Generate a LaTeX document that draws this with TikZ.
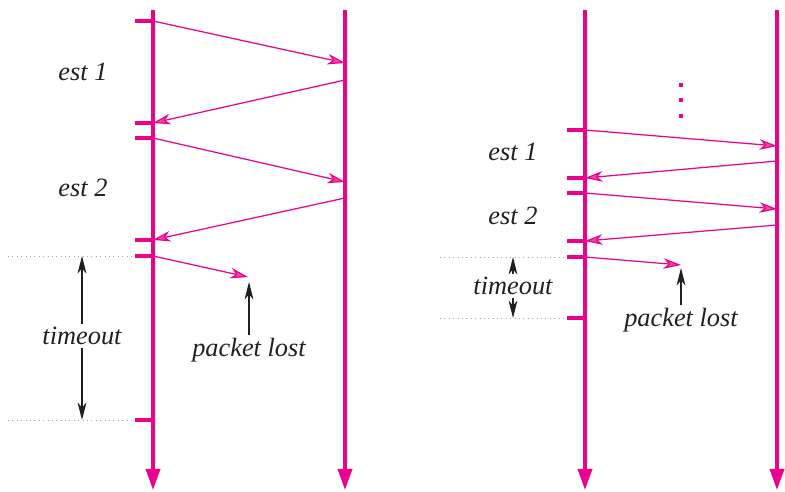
\documentclass[tikz,border=0pt]{standalone}
\usepackage{fontspec}
\setmainfont{Liberation Serif}
\usetikzlibrary{arrows.meta, positioning}
\definecolor{cmag}{HTML}{EC008C}
\definecolor{cink}{HTML}{231F20}
\tikzset{
  every picture/.style={x=0.02cm, y=-0.02cm},
  lifeline/.style={draw=cmag, line width=2pt, -{Triangle[length=12pt, width=8pt]}},
  tickmark/.style={draw=cmag, line width=1.8pt},
  msg/.style={draw=cmag, line width=0.7pt, -{Stealth[length=10pt, width=6pt, inset=3pt, fill=cmag!70]}},
  dim/.style={draw=cink, line width=0.6pt, -{Stealth[length=10pt, width=5pt, inset=3pt]}},
  guide/.style={draw=gray!70, dotted, line width=0.5pt},
  lbl/.style={font=\fontsize{15}{17}\selectfont\itshape, text=cink, inner sep=1.5pt},
}
\begin{document}
\begin{tikzpicture}
  \useasboundingbox (0,0) rectangle (785,492);
  % left panel: lifelines at x=153 and x=345
  \coordinate (aTop) at (153,10);  \coordinate (aBot) at (153,490);
  \coordinate (bTop) at (345,10);  \coordinate (bBot) at (345,490);
  \draw[lifeline] (aTop) -- (aBot);
  \draw[lifeline] (bTop) -- (bBot);
  \foreach \y [count=\i] in {21,123,138,240,256,420} {
    \coordinate (aT\i) at (153,\y);
    \draw[tickmark] (aT\i) -- ++(-18,0);
  }
  \foreach \s/\r [count=\i] in {21/63, 138/182} {
    \coordinate (aS\i) at (153,\s); \coordinate (bR\i) at (345,\r);
    \draw[msg] (aS\i) -- (bR\i);
  }
  \foreach \s/\r [count=\i] in {80/123, 198/240} {
    \coordinate (bS\i) at (345,\s); \coordinate (aR\i) at (153,\r);
    \draw[msg] (bS\i) -- (aR\i);
  }
  \coordinate (aLost) at (248,277);
  \draw[msg] (aT5) -- (aLost);
  \node[lbl] (aEst1) at (83,72) {est 1};
  \node[lbl] (aEst2) at (83,188) {est 2};
  % timeout window
  \coordinate (aG1) at (8,256);  \coordinate (aG2) at (8,420);
  \draw[guide] (aG1) -- (135,256);
  \draw[guide] (aG2) -- (135,420);
  \node[lbl] (aTo) at (82,336) {timeout};
  \coordinate (aToUp) at (82,256); \coordinate (aToDn) at (82,420);
  \draw[dim] (aTo.north) -- (aToUp);
  \draw[dim] (aTo.south) -- (aToDn);
  \node[lbl] (aLostLbl) at (249,350) {packet lost};
  \coordinate (aLostTip) at (249,282);
  \draw[dim] (aLostLbl.north) -- (aLostTip);

  % right panel: lifelines at x=585 and x=777
  \coordinate (cTop) at (585,10);  \coordinate (cBot) at (585,490);
  \coordinate (dTop) at (777,10);  \coordinate (dBot) at (777,490);
  \draw[lifeline] (cTop) -- (cBot);
  \draw[lifeline] (dTop) -- (dBot);
  \foreach \y in {85,100,116} { \fill[cmag] (681,\y) +(-2,-2) rectangle +(2,2); }
  \foreach \y [count=\i] in {130,178,193,241,257,318} {
    \coordinate (cT\i) at (585,\y);
    \draw[tickmark] (cT\i) -- ++(-18,0);
  }
  \foreach \s/\r [count=\i] in {130/146, 193/209} {
    \coordinate (cS\i) at (585,\s); \coordinate (dR\i) at (777,\r);
    \draw[msg] (cS\i) -- (dR\i);
  }
  \foreach \s/\r [count=\i] in {161/178, 225/241} {
    \coordinate (dS\i) at (777,\s); \coordinate (cR\i) at (585,\r);
    \draw[msg] (dS\i) -- (cR\i);
  }
  \coordinate (cLost) at (681,265);
  \draw[msg] (cT5) -- (cLost);
  \node[lbl] (cEst1) at (513,152) {est 1};
  \node[lbl] (cEst2) at (513,216) {est 2};
  \coordinate (cG1) at (440,257);  \coordinate (cG2) at (440,318);
  \draw[guide] (cG1) -- (567,257);
  \draw[guide] (cG2) -- (567,318);
  \node[lbl] (cTo) at (513,286) {timeout};
  \coordinate (cToUp) at (513,257); \coordinate (cToDn) at (513,318);
  \draw[dim] (cTo.north) -- (cToUp);
  \draw[dim] (cTo.south) -- (cToDn);
  \node[lbl] (cLostLbl) at (681,320) {packet lost};
  \coordinate (cLostTip) at (681,268);
  \draw[dim] (cLostLbl.north) -- (cLostTip);
\end{tikzpicture}
\end{document}
